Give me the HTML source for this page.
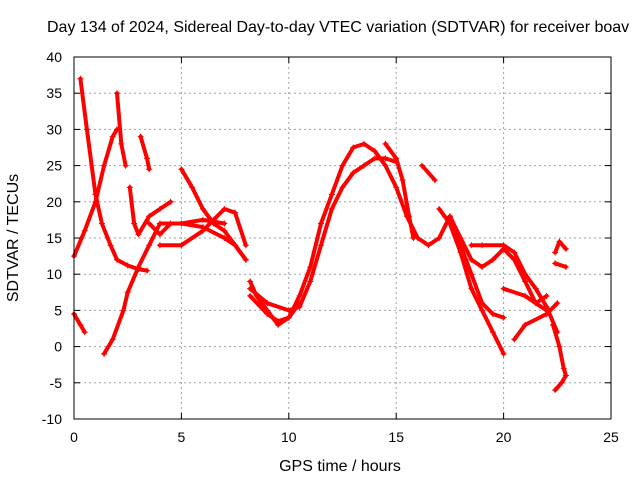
<!DOCTYPE html>
<html><head><meta charset="utf-8"><style>
body{margin:0;background:#fff}
svg{display:block;font-family:"Liberation Sans",sans-serif}
</style></head><body>
<svg id="chart" width="640" height="480" xmlns="http://www.w3.org/2000/svg">
<text x="47" y="32" font-size="16" fill="#000">Day 134 of 2024, Sidereal Day-to-day VTEC variation (SDTVAR) for receiver boav</text>
<g id="grid"></g>
<g id="series"></g>
<rect x="74" y="57" width="537" height="362" fill="none" stroke="#000" stroke-width="1"/>
<g id="ticks"></g>
<text x="340" y="471" font-size="16" text-anchor="middle">GPS time / hours</text>
<text transform="translate(18,238) rotate(-90)" font-size="16" text-anchor="middle">SDTVAR / TECUs</text>
</svg>
<script>
const xTicks=[0,5,10,15,20,25];
const yTicks=[-10,-5,0,5,10,15,20,25,30,35,40];
const trackA_t=[0,0.5,1,1.4,1.8,2.0];
const trackA_v=[12.5,16,20,25,29,30];
const trackB_t=[0.3,0.6,1,1.3,1.7,2,2.5,3,3.4];
const trackB_v=[37,30,21,17,14,12,11.2,10.7,10.5];
const trackC_t=[0,0.3,0.5];
const trackC_v=[4.5,3,2];
const trackD_t=[1.4,1.8,2.3,2.5,3,3.5,4,5,6,7,7.5,8];
const trackD_v=[-1,1,5,7.5,11,14,17,17,16.5,15,14,12];
const trackE_t=[2.0,2.2,2.4];
const trackE_v=[35,28,25];
const trackF_t=[2.6,2.8,3,3.5,4,4.5];
const trackF_v=[22,17,15.5,18,19,20];
const trackG_t=[3.1,3.4,3.5];
const trackG_v=[29,26,24.5];
const trackH_t=[5,5.5,6,6.5,7,7.5,8];
const trackH_v=[24.5,22,19,17,16,14,12];
const trackI_t=[4,5,6,6.5,7,7.5,8];
const trackI_v=[14,14,16,17.5,19,18.5,14];
const trackJ_t=[3.5,4,4.5,5,6,7];
const trackJ_v=[17,15.5,17,17,17.5,17];
const trackK_t=[8.2,8.5,9,9.5,10,10.5,11,11.5,12,12.5,13,13.5,14,14.5,15,15.5,16,16.5,17,17.5,18,18.5,19,19.5,20,20.5,21,21.5,22];
const trackK_v=[9,7,5,3,4,7,11,17,21,25,27.5,28,27,25,22,18,15,14,15,18,15,12,11,12,13.5,12,9,6,5];
const trackL_t=[8.2,9,10,10.5,11,11.5,12,12.5,13,13.5,14,14.5,15];
const trackL_v=[8,6,5,5.5,9,14,19,22,24,25,26,26,25.5];
const trackM_t=[8.2,9,9.5,10,10.5];
const trackM_v=[7,4.5,3.5,4,6];
const trackN_t=[17,17.5,18,18.5,19,19.5,20];
const trackN_v=[19,17,13,8,5,2,-1];
const trackO_t=[17.5,18,18.5,19,19.5,20];
const trackO_v=[18,14,10,6,4.5,4];
const trackP_t=[18.5,19,20,20.5,21,21.5,22,22.5];
const trackP_v=[14,14,14,13,10,8,5.5,2];
const trackQ_t=[20,21,21.5,22];
const trackQ_v=[8,7,6,7];
const trackR_t=[20.5,21,22,22.5];
const trackR_v=[1,3,4.5,6];
const trackS_t=[22.3,22.6,22.8,22.9];
const trackS_v=[3,0,-3,-4];
const trackT_t=[22.4,22.7,22.9];
const trackT_v=[-6,-5,-4];
const trackU_t=[22.4,22.6,22.9];
const trackU_v=[13,14.5,13.5];
const trackV_t=[22.4,22.9];
const trackV_v=[11.5,11];
const trackW_t=[14.5,15,15.3,15.6,15.8];
const trackW_v=[28,26,23,18,15];
const trackX_t=[16.2,16.8];
const trackX_v=[25,23];
const tracks=[[trackA_t,trackA_v],[trackB_t,trackB_v],[trackC_t,trackC_v],[trackD_t,trackD_v],[trackE_t,trackE_v],[trackF_t,trackF_v],[trackG_t,trackG_v],[trackH_t,trackH_v],[trackI_t,trackI_v],[trackJ_t,trackJ_v],[trackK_t,trackK_v],[trackL_t,trackL_v],[trackM_t,trackM_v],[trackN_t,trackN_v],[trackO_t,trackO_v],[trackP_t,trackP_v],[trackQ_t,trackQ_v],[trackR_t,trackR_v],[trackS_t,trackS_v],[trackT_t,trackT_v],[trackU_t,trackU_v],[trackV_t,trackV_v],[trackW_t,trackW_v],[trackX_t,trackX_v]];
const X0=74,X1=611,Y0=419,Y1=57;
function xs(t){return X0+(t-0)/(25-0)*(X1-X0);}
function ys(v){return Y0-(v+10)/50*(Y0-Y1);}
const NS="http://www.w3.org/2000/svg";
const grid=document.getElementById('grid'),ticks=document.getElementById('ticks'),ser=document.getElementById('series');
function mk(tag,attrs,parent){const e=document.createElementNS(NS,tag);for(const k in attrs)e.setAttribute(k,attrs[k]);parent.appendChild(e);return e;}
xTicks.forEach(t=>{const x=xs(t);
 if(t>0&&t<25){const g=mk('line',{x1:x,x2:x,y1:Y1,y2:Y0,stroke:'#a0a0a0','stroke-dasharray':'2,3','stroke-width':1},grid);
 
 }
 const l=mk('text',{x:x,y:Y0+23,'font-size':14,'text-anchor':'middle'},ticks);l.textContent=t;
 
 
 mk('line',{x1:x,x2:x,y1:Y0,y2:Y0-6,stroke:'#000'},ticks);mk('line',{x1:x,x2:x,y1:Y1,y2:Y1+6,stroke:'#000'},ticks);
});
yTicks.forEach(v=>{const y=ys(v);
 if(v>-10&&v<40){const g=mk('line',{x1:X0,x2:X1,y1:y,y2:y,stroke:'#a0a0a0','stroke-dasharray':'2,3','stroke-width':1},grid);
 
 }
 const l=mk('text',{x:X0-12,y:y+5,'font-size':14,'text-anchor':'end'},ticks);l.textContent=v;
 
 
 mk('line',{x1:X0,x2:X0+6,y1:y,y2:y,stroke:'#000'},ticks);mk('line',{x1:X1,x2:X1-6,y1:y,y2:y,stroke:'#000'},ticks);
});
tracks.forEach((tr,i)=>{const [T,V]=tr;
 const pts=T.map((t,j)=>xs(t).toFixed(1)+','+ys(V[j]).toFixed(1)).join(' ');
 const p=mk('polyline',{points:pts,fill:'none',stroke:'#ff0000','stroke-width':4,'stroke-linejoin':'round','stroke-linecap':'round'},ser);
 
 
 T.forEach((t,j)=>{const x=xs(t),y=ys(V[j]);
  const m=mk('path',{d:`M${x-3},${y}h6M${x},${y-3}v6`,stroke:'#ff0000','stroke-width':1},ser);
  
  
 });
});
</script>
</body></html>
